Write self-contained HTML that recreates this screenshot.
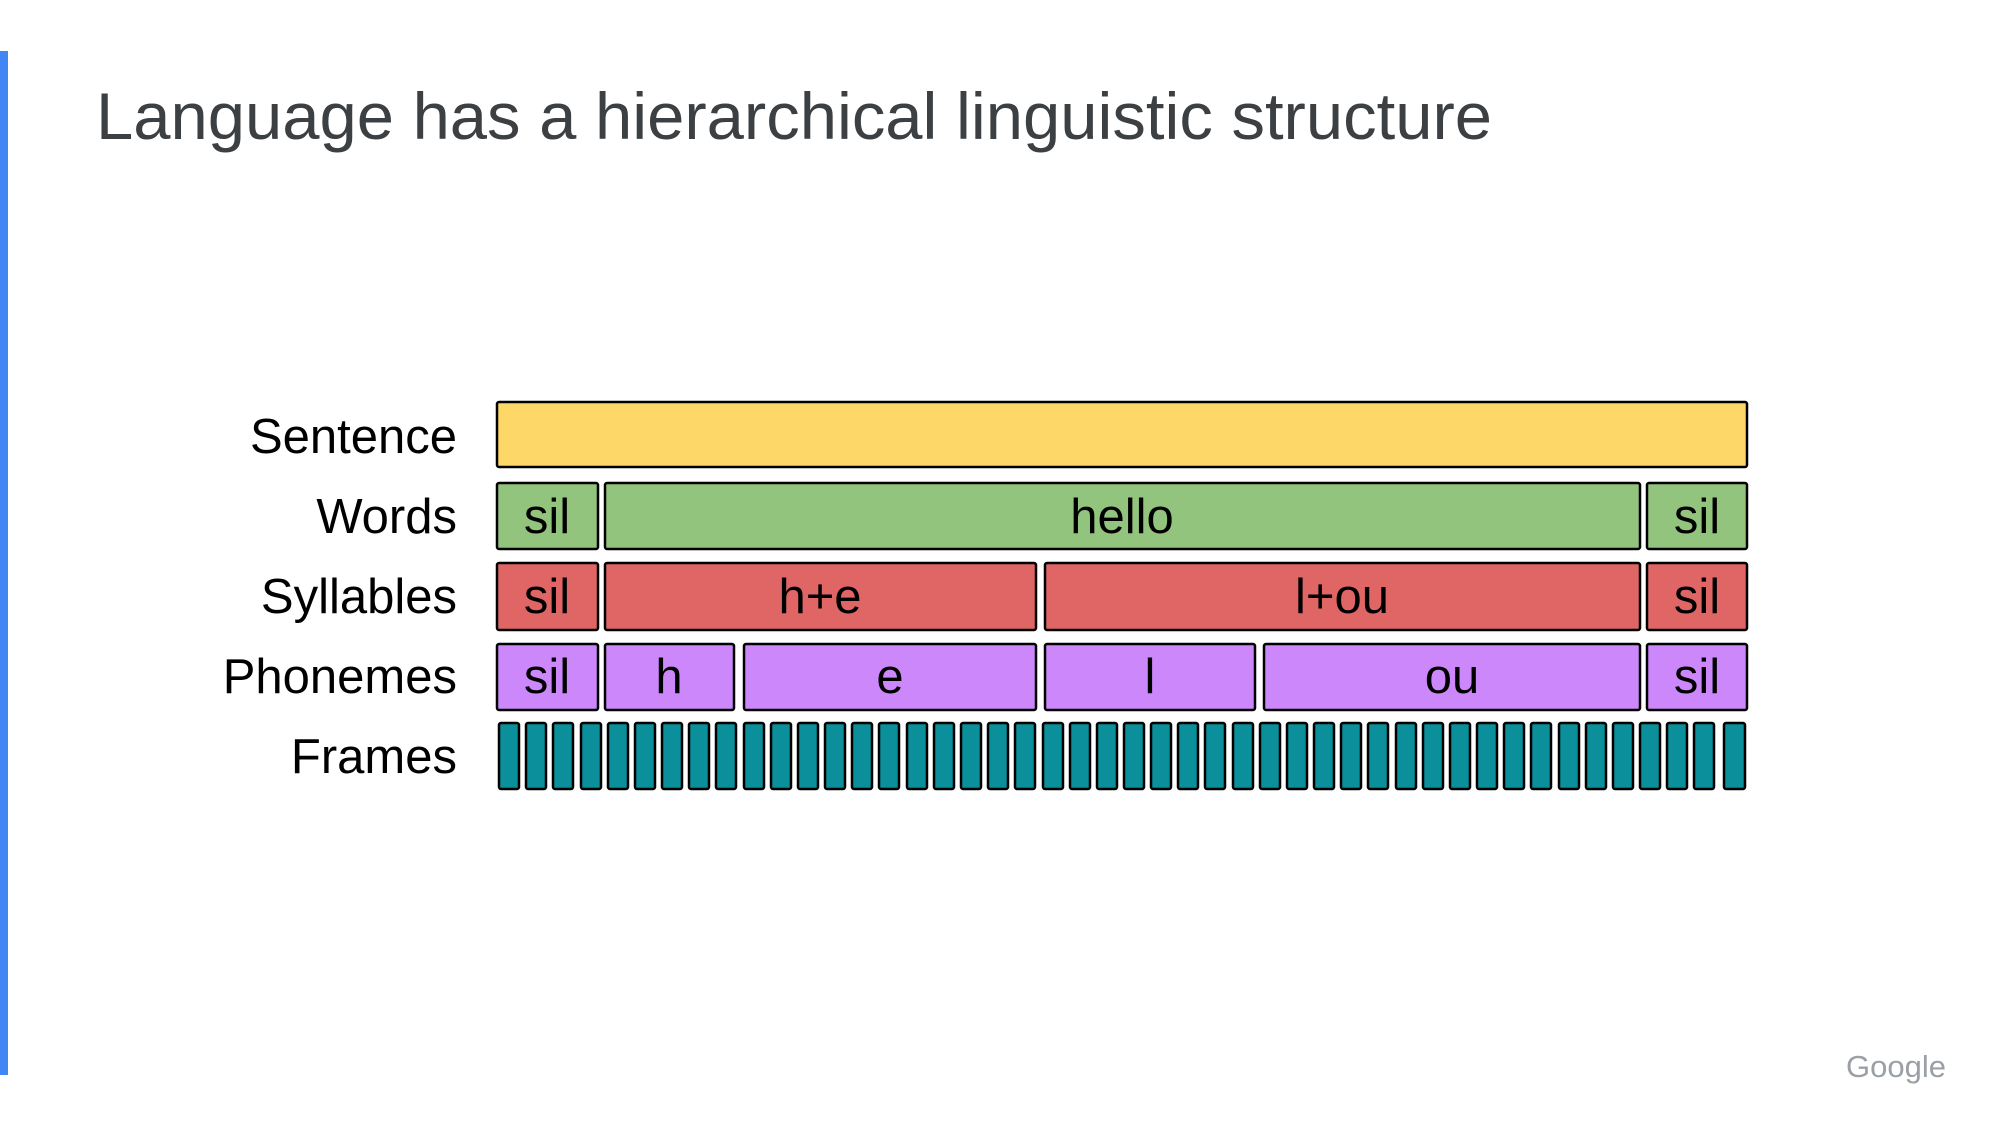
<!DOCTYPE html>
<html><head><meta charset="utf-8"><style>
html,body{margin:0;padding:0;background:#fff;}
svg{display:block;}
text{font-family:"Liberation Sans",sans-serif;}
</style></head><body>
<svg width="2000" height="1125" viewBox="0 0 2000 1125" xmlns="http://www.w3.org/2000/svg">
<rect x="0" y="51" width="8" height="1024" fill="#4285f4"/>
<text x="96" y="139" font-size="66" fill="#3c4043" textLength="1396" lengthAdjust="spacingAndGlyphs">Language has a hierarchical linguistic structure</text>
<g font-size="49" fill="#000" text-anchor="end">
<text x="457" y="453">Sentence</text>
<text x="457" y="533">Words</text>
<text x="457" y="613">Syllables</text>
<text x="457" y="693">Phonemes</text>
<text x="457" y="773">Frames</text>
</g>
<g stroke="#000" stroke-width="2.5">
<rect x="497" y="402" width="1250" height="65" rx="2" fill="#fdd768"/>
<rect x="497" y="483" width="101" height="66" rx="2" fill="#93c47d"/>
<rect x="605" y="483" width="1035" height="66" rx="2" fill="#93c47d"/>
<rect x="1647" y="483" width="100" height="66" rx="2" fill="#93c47d"/>
<rect x="497" y="563" width="101" height="67" rx="2" fill="#e06666"/>
<rect x="605" y="563" width="431" height="67" rx="2" fill="#e06666"/>
<rect x="1045" y="563" width="595" height="67" rx="2" fill="#e06666"/>
<rect x="1647" y="563" width="100" height="67" rx="2" fill="#e06666"/>
<rect x="497" y="644" width="101" height="66" rx="2" fill="#cc88fb"/>
<rect x="605" y="644" width="129" height="66" rx="2" fill="#cc88fb"/>
<rect x="744" y="644" width="292" height="66" rx="2" fill="#cc88fb"/>
<rect x="1045" y="644" width="210" height="66" rx="2" fill="#cc88fb"/>
<rect x="1264" y="644" width="376" height="66" rx="2" fill="#cc88fb"/>
<rect x="1647" y="644" width="100" height="66" rx="2" fill="#cc88fb"/>
</g>
<g font-size="49" fill="#000" text-anchor="middle">
<text x="547" y="533">sil</text><text x="1122" y="533">hello</text><text x="1697" y="533">sil</text>
<text x="547" y="613">sil</text><text x="820" y="613">h+e</text><text x="1342" y="613">l+ou</text><text x="1697" y="613">sil</text>
<text x="547" y="693">sil</text><text x="669" y="693">h</text><text x="890" y="693">e</text><text x="1150" y="693">l</text><text x="1452" y="693">ou</text><text x="1697" y="693">sil</text>
</g>
<g stroke="#000" stroke-width="2.5" fill="#0b8f9b">
<rect x="499" y="723" width="20" height="66" rx="2"/><rect x="526" y="723" width="20" height="66" rx="2"/><rect x="553" y="723" width="20" height="66" rx="2"/><rect x="581" y="723" width="20" height="66" rx="2"/><rect x="608" y="723" width="20" height="66" rx="2"/><rect x="635" y="723" width="20" height="66" rx="2"/><rect x="662" y="723" width="20" height="66" rx="2"/><rect x="689" y="723" width="20" height="66" rx="2"/><rect x="716" y="723" width="20" height="66" rx="2"/><rect x="744" y="723" width="20" height="66" rx="2"/><rect x="771" y="723" width="20" height="66" rx="2"/><rect x="798" y="723" width="20" height="66" rx="2"/><rect x="825" y="723" width="20" height="66" rx="2"/><rect x="852" y="723" width="20" height="66" rx="2"/><rect x="879" y="723" width="20" height="66" rx="2"/><rect x="907" y="723" width="20" height="66" rx="2"/><rect x="934" y="723" width="20" height="66" rx="2"/><rect x="961" y="723" width="20" height="66" rx="2"/><rect x="988" y="723" width="20" height="66" rx="2"/><rect x="1015" y="723" width="20" height="66" rx="2"/><rect x="1043" y="723" width="20" height="66" rx="2"/><rect x="1070" y="723" width="20" height="66" rx="2"/><rect x="1097" y="723" width="20" height="66" rx="2"/><rect x="1124" y="723" width="20" height="66" rx="2"/><rect x="1151" y="723" width="20" height="66" rx="2"/><rect x="1178" y="723" width="20" height="66" rx="2"/><rect x="1205" y="723" width="20" height="66" rx="2"/><rect x="1233" y="723" width="20" height="66" rx="2"/><rect x="1260" y="723" width="20" height="66" rx="2"/><rect x="1287" y="723" width="20" height="66" rx="2"/><rect x="1314" y="723" width="20" height="66" rx="2"/><rect x="1341" y="723" width="20" height="66" rx="2"/><rect x="1368" y="723" width="20" height="66" rx="2"/><rect x="1396" y="723" width="20" height="66" rx="2"/><rect x="1423" y="723" width="20" height="66" rx="2"/><rect x="1450" y="723" width="20" height="66" rx="2"/><rect x="1477" y="723" width="20" height="66" rx="2"/><rect x="1504" y="723" width="20" height="66" rx="2"/><rect x="1531" y="723" width="20" height="66" rx="2"/><rect x="1559" y="723" width="20" height="66" rx="2"/><rect x="1586" y="723" width="20" height="66" rx="2"/><rect x="1613" y="723" width="20" height="66" rx="2"/><rect x="1640" y="723" width="20" height="66" rx="2"/><rect x="1667" y="723" width="20" height="66" rx="2"/><rect x="1694" y="723" width="20" height="66" rx="2"/><rect x="1724" y="723" width="21" height="66" rx="2"/>
</g>
<text x="1946" y="1077" font-size="31" fill="#9aa0a6" text-anchor="end">Google</text>
</svg>
</body></html>
